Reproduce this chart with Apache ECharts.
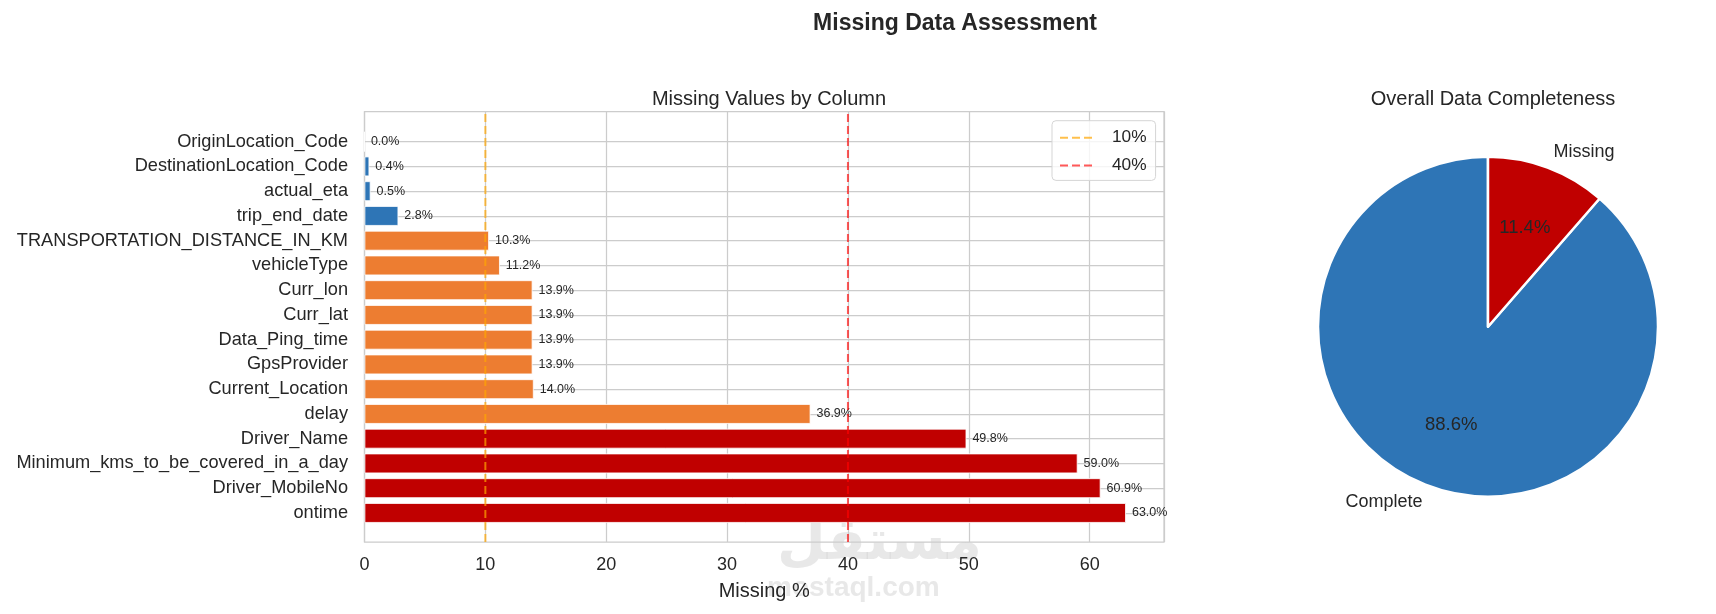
<!DOCTYPE html>
<html><head><meta charset="utf-8">
<script src="https://cdn.jsdelivr.net/npm/echarts@6/dist/echarts.min.js"></script>
<style>html,body{margin:0;padding:0;background:#fff}#c{width:1716px;height:614px}</style>
</head><body><div id="c"></div>
<script>
const categories = ['OriginLocation_Code','DestinationLocation_Code','actual_eta','trip_end_date','TRANSPORTATION_DISTANCE_IN_KM','vehicleType','Curr_lon','Curr_lat','Data_Ping_time','GpsProvider','Current_Location','delay','Driver_Name','Minimum_kms_to_be_covered_in_a_day','Driver_MobileNo','ontime'];
const missingPct = [0.0,0.4,0.5,2.8,10.3,11.2,13.9,13.9,13.9,13.9,14.0,36.9,49.8,59.0,60.9,63.0];
const thresholdValues = [10, 40];
const thresholdNames = ['10%', '40%'];
const pieLabels = ['Complete', 'Missing'];
const pieValues = [88.6, 11.4];

const FONT = '"Liberation Sans", Arial, sans-serif';
const TXT = '#262626';
const GRIDC = '#cccccc';
const XMAX = 66.15;
const thresholdColors = ['rgba(255,165,0,0.7)', 'rgba(255,0,0,0.65)'];

function barColor(v){ return v > 40 ? '#c00000' : (v > 10 ? '#ed7d31' : '#2e75b6'); }

const chart = echarts.init(document.getElementById('c'), null, {renderer:'canvas'});
const L = 364.5, W = 799.5;
const PC = [1488, 326.7], PR = 170;
const option = {
  animation: false,
  textStyle: {fontFamily: FONT},
  title: [
    {text: 'Missing Data Assessment', left: 950, top: 7, textAlign: 'center',
     textStyle: {fontFamily: FONT, fontSize: 23, fontWeight: 'bold', color: TXT}},
    {text: 'Missing Values by Column', left: 764, top: 84, textAlign: 'center',
     textStyle: {fontFamily: FONT, fontSize: 20, fontWeight: 'normal', color: TXT}},
    {text: 'Overall Data Completeness', left: 1488, top: 84, textAlign: 'center',
     textStyle: {fontFamily: FONT, fontSize: 20, fontWeight: 'normal', color: TXT}}
  ],
  legend: {
    data: thresholdNames, orient: 'vertical', left: 1052, top: 120.7,
    backgroundColor: 'rgba(255,255,255,0.8)', borderColor: '#d5d5d5', borderWidth: 1, borderRadius: 4,
    padding: [8, 9, 6, 7], itemWidth: 36, itemHeight: 14, itemGap: 9.7,
    itemStyle: {color: 'rgba(0,0,0,0)', borderColor: 'rgba(0,0,0,0)', borderWidth: 0},
    lineStyle: {type: [8, 4], width: 2},
    textStyle: {fontFamily: FONT, fontSize: 17.3, color: TXT, lineHeight: 18, padding: [0, 0, 0, 11]}
  },
  grid: [
    {left: L, top: 111.5, width: W, height: 430.5, show: true, borderColor: GRIDC, borderWidth: 1.25, backgroundColor: 'transparent'},
    {left: L, top: 129.3, width: W, height: 396},
    {left: L, top: 141.7, width: W, height: 371.3}
  ],
  xAxis: [
    {gridIndex: 0, type: 'value', min: 0, max: XMAX, interval: 10,
     name: 'Missing %', nameLocation: 'middle', nameGap: 39,
     nameTextStyle: {fontFamily: FONT, fontSize: 20, color: TXT},
     axisLine: {show: false}, axisTick: {show: false},
     axisLabel: {fontFamily: FONT, fontSize: 18, color: TXT, margin: 14, showMaxLabel: false},
     splitLine: {show: true, lineStyle: {color: GRIDC, width: 1.25}}},
    {gridIndex: 1, type: 'value', min: 0, max: XMAX, show: false},
    {gridIndex: 2, type: 'value', min: 0, max: XMAX, show: false}
  ],
  yAxis: [
    {gridIndex: 0, type: 'value', min: 0, max: 1, show: false},
    {gridIndex: 1, type: 'category', data: categories, inverse: true,
     axisLine: {show: false}, axisTick: {show: false}, splitLine: {show: false},
     axisLabel: {fontFamily: FONT, fontSize: 18.2, color: TXT, margin: 16.5}},
    {gridIndex: 2, type: 'category', data: categories, inverse: true, boundaryGap: false,
     axisLine: {show: false}, axisTick: {show: false}, axisLabel: {show: false},
     splitLine: {show: true, lineStyle: {color: GRIDC, width: 1.25}}}
  ],
  series: [
    {type: 'bar', name: 'missing', xAxisIndex: 1, yAxisIndex: 1, z: 2,
     barCategoryGap: '20%',
     data: missingPct.map(v => ({value: v, itemStyle: {color: barColor(v)}})),
     itemStyle: {borderColor: '#ffffff', borderWidth: 0.8},
     label: {show: true, position: 'right', distance: 6, fontFamily: FONT, fontSize: 12.5, color: TXT,
             formatter: p => p.value.toFixed(1) + '%'}},
    ...thresholdValues.map((t, i) => ({
      type: 'line', name: thresholdNames[i], xAxisIndex: 0, yAxisIndex: 0, z: 4,
      symbol: 'none', color: thresholdColors[i],
      lineStyle: {color: thresholdColors[i], width: 2, type: [8, 4]},
      data: [[t, 0], [t, 1]]
    })),
    {type: 'pie', name: 'completeness', center: PC, radius: PR,
     startAngle: 90, clockwise: false,
     data: pieLabels.map((n, i) => ({name: n, value: pieValues[i],
       itemStyle: {color: i === 0 ? '#2e75b6' : '#c00000'}})),
     itemStyle: {borderColor: '#ffffff', borderWidth: 2.5},
     label: {show: true, position: 'outside', fontFamily: FONT, fontSize: 18, color: TXT, distanceToLabelLine: 0},
     labelLine: {show: false, length: 17, length2: 0},
     emphasis: {disabled: true}},
    {type: 'pie', name: 'pct', center: PC, radius: [0, PR * 1.2],
     startAngle: 90, clockwise: false, silent: true, z: 3,
     data: pieLabels.map((n, i) => ({name: n, value: pieValues[i]})),
     itemStyle: {color: 'rgba(0,0,0,0)', borderWidth: 0},
     label: {show: true, position: 'inside', fontFamily: FONT, fontSize: 18.5, color: TXT,
             formatter: p => p.value.toFixed(1) + '%'},
     labelLine: {show: false}, emphasis: {disabled: true}}
  ],
  graphic: [
    {type: 'text', left: 777, top: 516, z: 0, silent: true,
     style: {text: 'مستقل', fontFamily: '"DejaVu Sans", sans-serif', fontSize: 56, fontWeight: 'bold', fill: 'rgba(205,205,205,0.45)'}},
    {type: 'text', left: 767, top: 574, z: 0, silent: true,
     style: {text: 'mostaql.com', fontFamily: FONT, fontSize: 28, fontWeight: 'bold', fill: 'rgba(205,205,205,0.45)'}}
  ]
};
chart.setOption(option);
</script></body></html>
